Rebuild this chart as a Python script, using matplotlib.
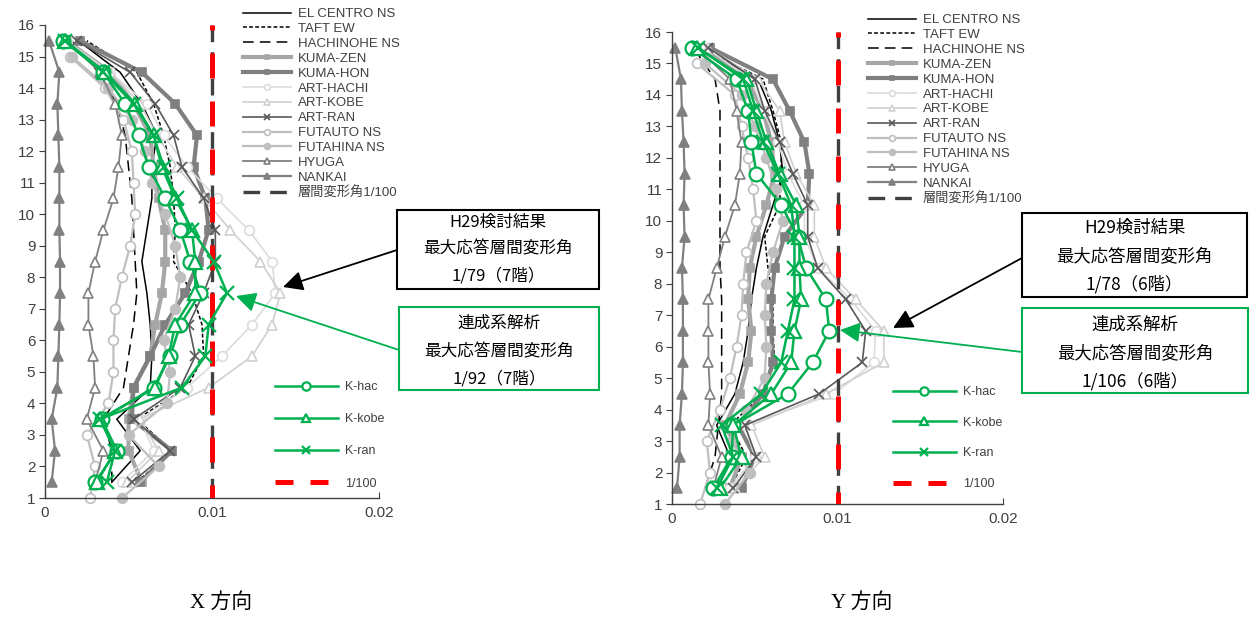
import matplotlib
matplotlib.use('Agg')
import matplotlib.pyplot as plt
from matplotlib.lines import Line2D
from matplotlib.patches import Rectangle, FancyArrowPatch

plt.rcParams['font.family'] = ['Liberation Sans', 'Noto Sans CJK JP']

# --- data ---
STORY = [1.5, 2.5, 3.5, 4.5, 5.5, 6.5, 7.5, 8.5, 9.5, 10.5, 11.5, 12.5, 13.5, 14.5, 15.5]
STORY_INT = [1, 2, 3, 4, 5, 6, 7, 8, 9, 10, 11, 12, 13, 14, 15]
LIMIT = 0.01
LIMIT_RANGE = [16, 1]

# X direction
x_el_centro = [0.0040, 0.0057, 0.0043, 0.0063, 0.0064, 0.0063, 0.0061, 0.0058, 0.0061, 0.0064, 0.0064, 0.0067, 0.0058, 0.0045, 0.0020]
x_taft = [0.0055, 0.0076, 0.0055, 0.0085, 0.0095, 0.0094, 0.0088, 0.0077, 0.0078, 0.0077, 0.0075, 0.0071, 0.0065, 0.0055, 0.0025]
x_hachinohe = [0.0040, 0.0040, 0.0035, 0.0047, 0.0050, 0.0053, 0.0055, 0.0054, 0.0053, 0.0052, 0.0050, 0.0048, 0.0043, 0.0032, 0.0016]
x_kuma_zen = [0.0058, 0.0050, 0.0050, 0.0053, 0.0063, 0.0066, 0.0070, 0.0072, 0.0072, 0.0068, 0.0065, 0.0063, 0.0053, 0.0039, 0.0013]
x_kuma_hon = [0.0057, 0.0076, 0.0052, 0.0053, 0.0063, 0.0072, 0.0084, 0.0092, 0.0098, 0.0096, 0.0089, 0.0091, 0.0078, 0.0058, 0.0021]
x_art_hachi = [0.0046, 0.0065, 0.0057, 0.0085, 0.0106, 0.0124, 0.0138, 0.0136, 0.0122, 0.0103, 0.0085, 0.0071, 0.0061, 0.0039, 0.0013]
x_art_kobe = [0.0049, 0.0068, 0.0057, 0.0098, 0.0124, 0.0136, 0.0141, 0.0129, 0.0111, 0.0095, 0.0079, 0.0067, 0.0057, 0.0039, 0.0013]
x_art_ran = [0.0052, 0.0075, 0.0053, 0.0081, 0.0090, 0.0086, 0.0095, 0.0102, 0.0102, 0.0095, 0.0082, 0.0077, 0.0066, 0.0051, 0.0019]
x_futauto = [0.0027, 0.0030, 0.0025, 0.0038, 0.0041, 0.0041, 0.0042, 0.0046, 0.0051, 0.0054, 0.0053, 0.0052, 0.0047, 0.0036, 0.0015]
x_futahina = [0.0046, 0.0068, 0.0050, 0.0073, 0.0075, 0.0071, 0.0078, 0.0081, 0.0078, 0.0072, 0.0064, 0.0060, 0.0052, 0.0038, 0.0016]
x_hyuga = [0.0030, 0.0035, 0.0025, 0.0030, 0.0029, 0.0026, 0.0026, 0.0030, 0.0035, 0.0041, 0.0044, 0.0046, 0.0042, 0.0033, 0.0013]
x_nankai = [0.0004, 0.0006, 0.0004, 0.00074, 0.0008, 0.00086, 0.0009, 0.0009, 0.00086, 0.00086, 0.00086, 0.0008, 0.00074, 0.00086, 0.00024]
x_k_hac = [0.0030, 0.0043, 0.0034, 0.0065, 0.0075, 0.0081, 0.0093, 0.0087, 0.0081, 0.0072, 0.0062, 0.0056, 0.0048, 0.0035, 0.0011]
x_k_kobe = [0.0031, 0.0042, 0.0033, 0.0066, 0.0074, 0.0078, 0.0090, 0.0090, 0.0088, 0.0078, 0.0070, 0.0065, 0.0054, 0.0036, 0.0012]
x_k_ran = [0.0037, 0.0042, 0.0033, 0.0082, 0.0096, 0.0098, 0.0109, 0.0101, 0.0088, 0.0079, 0.0071, 0.0065, 0.0053, 0.0035, 0.0012]

# Y direction
y_el_centro = [0.0028, 0.0035, 0.0027, 0.0038, 0.0043, 0.0046, 0.0048, 0.0051, 0.0055, 0.0061, 0.0067, 0.0065, 0.0060, 0.0052, 0.0017]
y_taft = [0.0035, 0.0045, 0.0035, 0.0055, 0.0062, 0.0061, 0.0061, 0.0058, 0.0056, 0.0065, 0.0066, 0.0066, 0.0061, 0.0055, 0.0017]
y_hachinohe = [0.0020, 0.0026, 0.0028, 0.0030, 0.0030, 0.0030, 0.0030, 0.0029, 0.0029, 0.0029, 0.0029, 0.0029, 0.0029, 0.0026, 0.0013]
y_kuma_zen = [0.0035, 0.0042, 0.0032, 0.0041, 0.0046, 0.0048, 0.0046, 0.0047, 0.0051, 0.0057, 0.0062, 0.0060, 0.0055, 0.0045, 0.0017]
y_kuma_hon = [0.0042, 0.0050, 0.0040, 0.0055, 0.0061, 0.0060, 0.0060, 0.0062, 0.0068, 0.0082, 0.0083, 0.0080, 0.0071, 0.0061, 0.0023]
y_art_hachi = [0.0035, 0.0050, 0.0044, 0.0098, 0.0122, 0.0123, 0.0108, 0.0088, 0.0080, 0.0080, 0.0070, 0.0064, 0.0055, 0.0048, 0.0020]
y_art_kobe = [0.0038, 0.0056, 0.0048, 0.0093, 0.0128, 0.0128, 0.0111, 0.0093, 0.0086, 0.0086, 0.0075, 0.0068, 0.0065, 0.0052, 0.0022]
y_art_ran = [0.0037, 0.0051, 0.0044, 0.0089, 0.0115, 0.0117, 0.0105, 0.0088, 0.0082, 0.0082, 0.0073, 0.0065, 0.0056, 0.0050, 0.0022]
y_futauto = [0.0017, 0.0023, 0.0021, 0.0029, 0.0035, 0.0039, 0.0042, 0.0043, 0.0045, 0.0051, 0.0049, 0.0046, 0.0042, 0.0038, 0.0015]
y_futahina = [0.0032, 0.0047, 0.0036, 0.0045, 0.0056, 0.0057, 0.0056, 0.0057, 0.0061, 0.0067, 0.0063, 0.0057, 0.0050, 0.0042, 0.0020]
y_hyuga = [0.0025, 0.0030, 0.0022, 0.0023, 0.0022, 0.0022, 0.0022, 0.0027, 0.0032, 0.0038, 0.0041, 0.0042, 0.0039, 0.0035, 0.0015]
y_nankai = [0.0003, 0.00046, 0.00046, 0.0006, 0.00066, 0.00066, 0.00066, 0.0006, 0.00076, 0.0007, 0.00076, 0.0007, 0.0006, 0.00054, 0.0002]
y_k_hac = [0.0025, 0.0036, 0.0037, 0.0070, 0.0085, 0.0095, 0.0093, 0.0081, 0.0076, 0.0066, 0.0051, 0.0048, 0.0046, 0.0039, 0.0012]
y_k_kobe = [0.0029, 0.0042, 0.0037, 0.0060, 0.0072, 0.0074, 0.0078, 0.0077, 0.0077, 0.0075, 0.0065, 0.0057, 0.0051, 0.0045, 0.0015]
y_k_ran = [0.0027, 0.0037, 0.0030, 0.0054, 0.0066, 0.0070, 0.0074, 0.0074, 0.0074, 0.0072, 0.0064, 0.0055, 0.0049, 0.0043, 0.0016]

GRAY_LABELS = ['EL CENTRO NS', 'TAFT EW', 'HACHINOHE NS', 'KUMA-ZEN', 'KUMA-HON', 'ART-HACHI',
               'ART-KOBE', 'ART-RAN', 'FUTAUTO NS', 'FUTAHINA NS', 'HYUGA', 'NANKAI']
GREEN_LABELS = ['K-hac', 'K-kobe', 'K-ran']

# styles: (color, linestyle, lw, marker, ms, markerfacecolor)
GRAY_STYLES = [
    ('black', '-', 1.1, None, 0, None),
    ('black', (0, (2.5, 1.5)), 1.1, None, 0, None),
    ('black', (0, (7, 4)), 1.1, None, 0, None),
    ('#a6a6a6', '-', 3.0, 's', 6, '#a6a6a6'),
    ('#808080', '-', 3.0, 's', 6, '#808080'),
    ('#dcdcdc', '-', 1.2, 'o', 7, 'white'),
    ('#d0d0d0', '-', 1.2, '^', 7, 'white'),
    ('#595959', '-', 1.2, 'x', 7, '#595959'),
    ('#bfbfbf', '-', 1.6, 'o', 7, 'white'),
    ('#bfbfbf', '-', 1.6, 'o', 7, '#bfbfbf'),
    ('#808080', '-', 1.3, '^', 7, 'white'),
    ('#808080', '-', 1.6, '^', 7, '#808080'),
]
GREEN = '#00b050'
GREEN_MARKERS = ['o', '^', 'x']


def fx(px):
    return px / 1255


def fy(py):
    return 1 - py / 630


fig = plt.figure(figsize=(12.55, 6.3), dpi=100)
fig.patch.set_facecolor('white')

ax_x = fig.add_axes([fx(45), fy(498), fx(334), 473 / 630])
ax_y = fig.add_axes([fx(672), fy(504), fx(331), 472 / 630])

panels = [
    (ax_x, [x_el_centro, x_taft, x_hachinohe, x_kuma_zen, x_kuma_hon, x_art_hachi, x_art_kobe,
            x_art_ran, x_futauto, x_futahina, x_hyuga, x_nankai], [x_k_hac, x_k_kobe, x_k_ran],
     (243, 8), (275, 381), 1.62),
    (ax_y, [y_el_centro, y_taft, y_hachinohe, y_kuma_zen, y_kuma_hon, y_art_hachi, y_art_kobe,
            y_art_ran, y_futauto, y_futahina, y_hyuga, y_nankai], [y_k_hac, y_k_kobe, y_k_ran],
     (868, 14), (893, 386), 1.5),
]

for ax, gray_data, green_data, leg1_pos, leg2_pos, leg2_space in panels:
    gray_handles = []
    for label, vals, (c, ls, lw, mk, ms, mfc) in zip(GRAY_LABELS, gray_data, GRAY_STYLES):
        floors = STORY_INT if label.startswith('FUTA') else STORY
        h, = ax.plot(vals, floors, color=c, ls=ls, lw=lw, marker=mk, ms=ms,
                     mfc=mfc, mec=c, mew=1.2, label=label, zorder=2, clip_on=False)
        gray_handles.append(h)

    ref_gray, = ax.plot([LIMIT, LIMIT], LIMIT_RANGE, color='#404040', lw=2.4,
                        ls=(0, (5, 3)), label='層間変形角1/100', zorder=3)
    ax.plot([LIMIT, LIMIT], LIMIT_RANGE, color='#ff0000', lw=3.6,
            ls=(4.0, (5, 4.6)), zorder=4)
    ref_red = Line2D([], [], color='#ff0000', lw=3.6, ls=(0, (3.6, 3.4)), label='1/100')

    green_handles = []
    for label, vals, mk in zip(GREEN_LABELS, green_data, GREEN_MARKERS):
        h, = ax.plot(vals, STORY, color=GREEN, lw=1.8, marker=mk, ms=10, mfc='white',
                     mec=GREEN, mew=1.6, label=label, zorder=5, clip_on=False)
        green_handles.append(h)

    ax.set_xlim(0, 0.02)
    ax.set_ylim(1, 16)
    ax.set_xticks([0, 0.01, 0.02])
    ax.set_xticklabels(['0', '0.01', '0.02'])
    ax.set_yticks(range(1, 17))
    for s in ['top', 'right']:
        ax.spines[s].set_visible(False)
    for s in ['left', 'bottom']:
        ax.spines[s].set_color('#404040')
        ax.spines[s].set_linewidth(1.0)
    ax.tick_params(axis='y', direction='out', length=4, color='#404040',
                   labelsize=11, labelcolor='#404040', pad=3)
    ax.tick_params(axis='x', direction='in', length=4, color='#404040',
                   labelsize=11, labelcolor='#404040', pad=6)

    leg1 = ax.legend(handles=gray_handles + [ref_gray], loc='upper left',
                     bbox_to_anchor=(fx(leg1_pos[0]), fy(leg1_pos[1])),
                     bbox_transform=fig.transFigure, frameon=False, fontsize=9.5,
                     labelspacing=0.2, handlelength=3.6, handletextpad=0.55,
                     borderpad=0, borderaxespad=0, markerscale=0.6, labelcolor='#404040')
    ax.add_artist(leg1)
    ax.legend(handles=green_handles + [ref_red], loc='upper left',
              bbox_to_anchor=(fx(leg2_pos[0]), fy(leg2_pos[1])),
              bbox_transform=fig.transFigure, frameon=False, fontsize=9,
              labelspacing=leg2_space, handlelength=5.0, handletextpad=0.6,
              borderpad=0, borderaxespad=0, markerscale=0.6, labelcolor='#404040')

# annotation boxes
BOXES = [
    # (x0, y0, x1, y1, color, lines, text rows y, fontsize)
    (397, 210, 599, 289, 'black', ['H29検討結果', '最大応答層間変形角', '1/79（7階）'], [222, 249, 276], 12),
    (399, 307, 599, 390, GREEN, ['連成系解析', '最大応答層間変形角', '1/92（7階）'], [323, 352, 379], 12),
    (1022, 213, 1247, 297, 'black', ['H29検討結果', '最大応答層間変形角', '1/78（6階）'], [228, 256, 284], 12.5),
    (1022, 308, 1248, 393, GREEN, ['連成系解析', '最大応答層間変形角', '1/106（6階）'], [325, 353, 381], 12.5),
]
for x0, y0, x1, y1, col, lines, rows, fs in BOXES:
    fig.add_artist(Rectangle((fx(x0), fy(y1)), fx(x1 - x0), (y1 - y0) / 630,
                             transform=fig.transFigure, fill=False, ec=col, lw=1.5))
    for t, ry in zip(lines, rows):
        fig.text(fx((x0 + x1) / 2), fy(ry), t, ha='center', va='center',
                 fontsize=fs, family=['Noto Sans CJK JP'], color='black')

ARROWS = [
    ((397, 250), (283, 287), 'black'),
    ((399, 350), (236, 296), GREEN),
    ((1022, 258), (893, 328), 'black'),
    ((1022, 352), (840, 330), GREEN),
]
for (sx, sy), (ex, ey), col in ARROWS:
    fig.add_artist(FancyArrowPatch((fx(sx), fy(sy)), (fx(ex), fy(ey)), transform=fig.transFigure,
                                   arrowstyle='-|>,head_length=0.6,head_width=0.3',
                                   mutation_scale=20, color=col, lw=1.3,
                                   shrinkA=0, shrinkB=0))

fig.text(fx(221), fy(603), 'X 方向', ha='center', va='center', fontsize=15,
         family=['Liberation Serif', 'Noto Sans CJK JP'])
fig.text(fx(862), fy(603), 'Y 方向', ha='center', va='center', fontsize=15,
         family=['Liberation Serif', 'Noto Sans CJK JP'])

fig.savefig('out.png', dpi=100)
